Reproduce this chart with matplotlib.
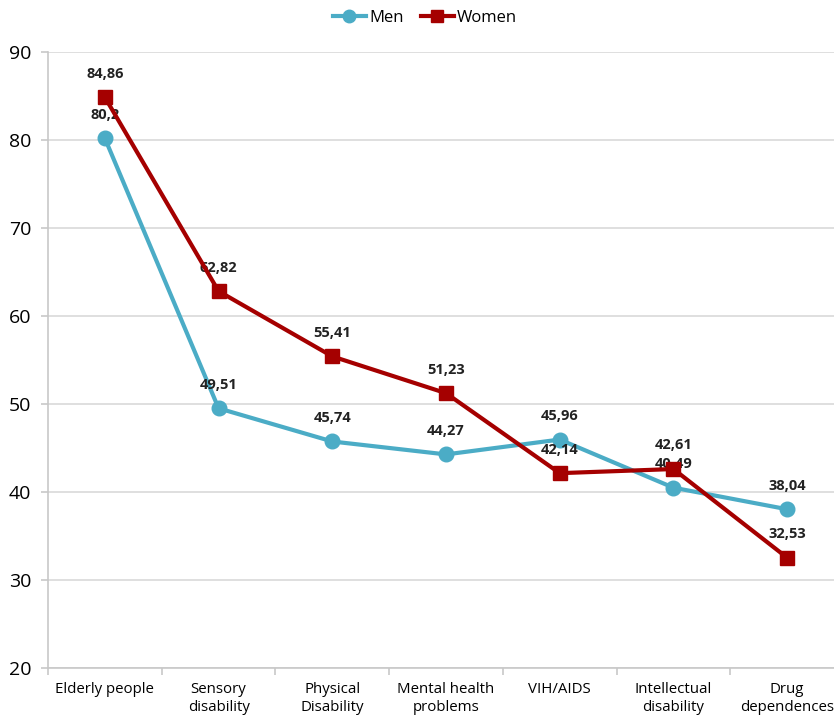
import matplotlib
matplotlib.use("Agg")
import matplotlib.pyplot as plt
from matplotlib.lines import Line2D

categories = ["Elderly people", "Sensory\ndisability", "Physical\nDisability",
              "Mental health\nproblems", "VIH/AIDS", "Intellectual\ndisability",
              "Drug\ndependences"]
men = [80.2, 49.51, 45.74, 44.27, 45.96, 40.49, 38.04]
women = [84.86, 62.82, 55.41, 51.23, 42.14, 42.61, 32.53]
men_labels = ["80,2", "49,51", "45,74", "44,27", "45,96", "40,49", "38,04"]
women_labels = ["84,86", "62,82", "55,41", "51,23", "42,14", "42,61", "32,53"]
yticks = [20, 30, 40, 50, 60, 70, 80, 90]

MEN_C = "#4BACC6"
WOMEN_C = "#A50000"
GRID_C = "#D9D9D9"

plt.rcParams["font.family"] = ["Open Sans", "DejaVu Sans"]

fig = plt.figure(figsize=(8.34, 7.18), dpi=100)
W, H = 834, 718
left, right, top, bottom = 48, 844, 52, 668
ax = fig.add_axes([left / W, 1 - bottom / H, (right - left) / W, (bottom - top) / H])

x = list(range(len(categories)))
ax.plot(x, men, color=MEN_C, lw=3, marker="o", ms=10.5, zorder=3, clip_on=False)
ax.plot(x, women, color=WOMEN_C, lw=3, marker="s", ms=9.5, zorder=4, clip_on=False)

for xi, v, s in zip(x, men, men_labels):
    ax.annotate(s, (xi, v), xytext=(0, 12), textcoords="offset points",
                ha="center", va="bottom", fontsize=10.5, fontweight="bold", color="#222222")
for xi, v, s in zip(x, women, women_labels):
    ax.annotate(s, (xi, v), xytext=(0, 12), textcoords="offset points",
                ha="center", va="bottom", fontsize=10.5, fontweight="bold", color="#222222")

ax.set_xlim(-0.5, len(categories) - 0.5)
ax.set_ylim(20, 90)
ax.set_yticks(yticks)
ax.set_yticklabels([str(t) for t in yticks], fontsize=14)
ax.yaxis.grid(True, color=GRID_C, lw=1.2)
ax.set_axisbelow(True)

ax.set_xticks(x)
ax.set_xticklabels(categories, fontsize=10.8, linespacing=1.3)
ax.tick_params(axis="x", length=0, pad=10)
ax.set_xticks([i + 0.5 for i in range(-1, len(categories))], minor=True)
ax.tick_params(axis="x", which="minor", length=5, color="#C8C8C8", width=1.2)
ax.tick_params(axis="y", length=5, color="#C8C8C8", width=1.2, pad=7)

for sp in ["top", "right"]:
    ax.spines[sp].set_visible(False)
for sp in ["left", "bottom"]:
    ax.spines[sp].set_color("#C8C8C8")
    ax.spines[sp].set_linewidth(1.2)

handles = [Line2D([], [], color=MEN_C, lw=3, marker="o", ms=9),
           Line2D([], [], color=WOMEN_C, lw=3, marker="s", ms=9)]
fig.legend(handles, ["Men", "Women"], loc="center", bbox_to_anchor=(425 / W, 1 - 18 / H),
           ncol=2, frameon=False, fontsize=12, handlelength=2.0, handletextpad=0.2,
           columnspacing=1.0)

fig.savefig("out.png", dpi=100)
